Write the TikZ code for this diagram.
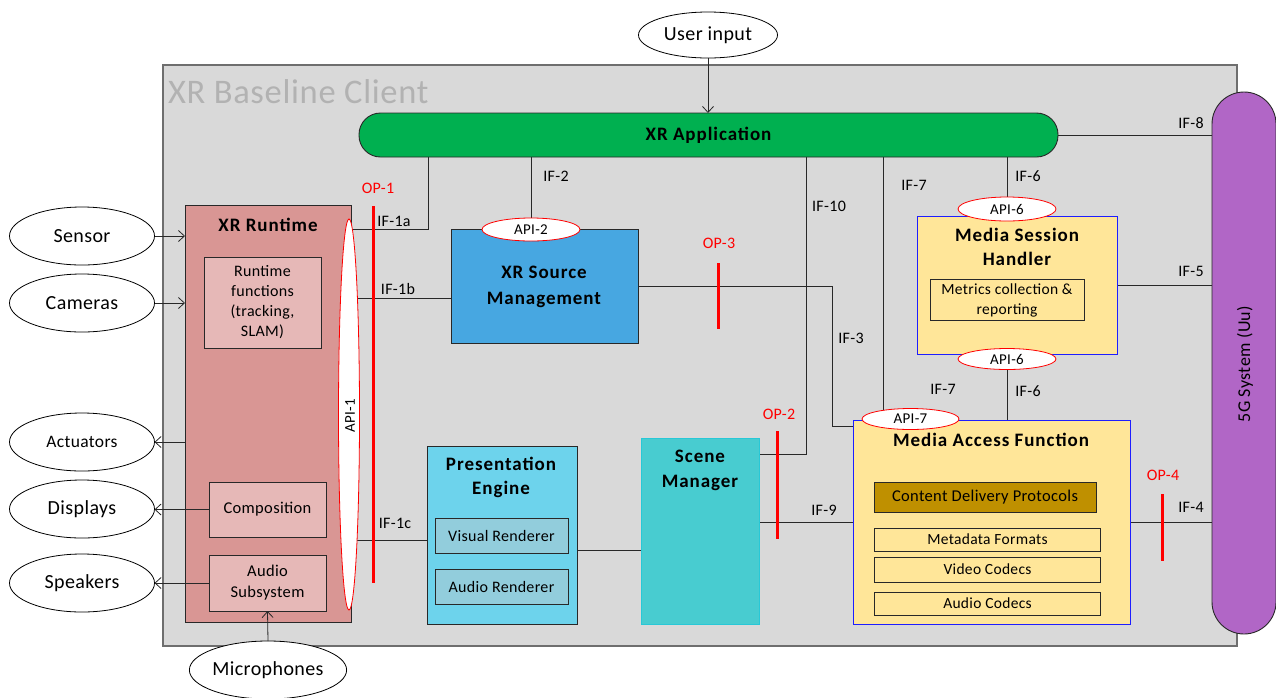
\documentclass[tikz,border=0pt]{standalone}
\usepackage{fontspec}
\setmainfont{Carlito}[LetterSpace=2,BoldFeatures={LetterSpace=5}]
\usetikzlibrary{shapes.geometric,arrows.meta,calc}
\pgfdeclarelayer{back}
\pgfdeclarelayer{bg}
\pgfsetlayers{back,bg,main}
\newcommand{\fsz}[2]{\fontsize{#1}{#2}\selectfont}
\definecolor{clientfill}{RGB}{217,217,217}
\definecolor{clientborder}{RGB}{110,110,110}
\definecolor{clienttext}{RGB}{178,178,178}
\definecolor{appgreen}{RGB}{0,176,80}
\definecolor{fivegpurple}{RGB}{177,102,198}
\definecolor{rtred}{RGB}{217,150,148}
\definecolor{rtin}{RGB}{230,184,183}
\definecolor{xrsmblue}{RGB}{71,167,225}
\definecolor{peblue}{RGB}{109,211,236}
\definecolor{rendblue}{RGB}{146,205,220}
\definecolor{smteal}{RGB}{72,204,208}
\definecolor{smborder}{RGB}{40,200,215}
\definecolor{lyellow}{RGB}{255,230,153}
\definecolor{gold}{RGB}{191,144,0}
\definecolor{mafblue}{RGB}{30,30,255}
\definecolor{lineblk}{RGB}{40,40,40}
\begin{document}
\begin{tikzpicture}[x=1pt,y=-1pt,
  base/.style={inner sep=0pt,outer sep=0pt},
  blk/.style={base,rectangle,draw=lineblk,line width=0.9pt},
  ell/.style={base,ellipse,draw=black,fill=white,line width=0.8pt,minimum width=145pt,minimum height=58pt,font=\fsz{20}{24}},
  api/.style={base,ellipse,draw=red,fill=white,line width=0.8pt,minimum width=98pt,font=\fsz{15}{18}},
  conn/.style={draw=lineblk,line width=0.8pt},
  arr/.style={conn,-{Straight Barb[length=6pt,width=11pt]}},
  op/.style={draw=red,line width=3pt},
  lbl/.style={base,font=\fsz{16}{19}},
  oplbl/.style={lbl,text=red},
  ttl/.style={base,font=\bfseries\fsz{19}{25},align=center},
  inbox/.style={blk,align=center,font=\fsz{16}{20}}
]
\useasboundingbox (0,0) rectangle (1276,697);

\begin{pgfonlayer}{back}
\node[base,draw=clientborder,fill=clientfill,line width=1.2pt,minimum width=1074pt,minimum height=581pt] (client) at (700,355.5) {};
\end{pgfonlayer}
\node[base,text=clienttext,font=\fsz{34.5}{40},anchor=base west] (clienttitle) at (168,103) {XR Baseline Client};

% outside elements
\node[ell,minimum width=139pt,minimum height=46pt] (userinput) at (708,35) {User input};
\node[ell] (sensor) at (82,236) {Sensor};
\node[ell] (cameras) at (82,303) {Cameras};
\node[ell,font=\fsz{17.5}{20}] (actuators) at (82,442) {Actuators};
\node[ell] (displays) at (82,509) {Displays};
\node[ell] (speakers) at (82,583) {Speakers};
\node[ell,minimum width=146pt] (microphones) at (268,670) {Microphones};

% XR application and 5G system
\node[base,draw=lineblk,line width=0.9pt,fill=appgreen,rounded corners=21.5pt,minimum width=699pt,minimum height=44pt,font=\bfseries\fsz{19}{22}] (xrapp) at (708.5,135) {\raisebox{-3pt}{XR Application}};
\node[base,draw=lineblk,line width=0.9pt,fill=fivegpurple,rounded corners=32pt,minimum width=64pt,minimum height=542pt] (fiveg) at (1244,363) {};
\node[base,rotate=90,font=\fsz{18}{20}] (fivegtext) at (1245,364) {5G System (Uu)};

% XR runtime
\node[blk,fill=rtred,minimum width=166pt,minimum height=417pt] (runtime) at (268,413.5) {};
\node[ttl] (runtimetitle) at (268,225) {XR Runtime};
\node[inbox,fill=rtin,minimum width=117pt,minimum height=91pt] (rtfunc) at (262.5,302.5) {Runtime\\functions\\(tracking,\\SLAM)};
\node[inbox,fill=rtin,minimum width=117pt,minimum height=55pt,font=\fsz{16.5}{20}] (comp) at (267.5,509.5) {Composition};
\node[inbox,fill=rtin,minimum width=117pt,minimum height=56pt,font=\fsz{16.5}{21}] (audiosub) at (267.5,583) {Audio\\Subsystem};
\node[api,minimum width=21pt,minimum height=391pt] (api1) at (349,414.5) {};
\node[base,rotate=90,font=\fsz{15}{18}] (api1text) at (350,416) {API-1};

% XR source management
\node[blk,fill=xrsmblue,minimum width=187pt,minimum height=114pt] (xrsm) at (544.5,286) {};
\node[ttl,font=\bfseries\fsz{19}{26}] (xrsmtitle) at (544,287) {XR Source\\Management};
\node[api,minimum height=23pt] (api2) at (531,229.5) {API-2};

% presentation engine
\node[blk,fill=peblue,minimum width=150pt,minimum height=178pt] (pe) at (502,535) {};
\node[ttl,font=\bfseries\fsz{19}{24}] (petitle) at (501,477) {Presentation\\Engine};
\node[inbox,fill=rendblue,minimum width=133pt,minimum height=35pt] (vr) at (501.5,535.5) {Visual Renderer};
\node[inbox,fill=rendblue,minimum width=133pt,minimum height=35pt] (ar) at (501.5,586.5) {Audio Renderer};

% scene manager
\node[base,draw=smborder,line width=0.9pt,fill=smteal,minimum width=118pt,minimum height=186pt] (sm) at (700,531) {};
\node[ttl,font=\bfseries\fsz{19}{25}] (smtitle) at (700,470) {Scene\\Manager};

% media session handler
\node[base,draw=mafblue,line width=0.8pt,fill=lyellow,minimum width=200pt,minimum height=138pt] (msh) at (1017.5,285) {};
\node[ttl,font=\bfseries\fsz{19}{24}] (mshtitle) at (1017,247) {Media Session\\Handler};
\node[inbox,fill=lyellow,minimum width=154pt,minimum height=41pt,font=\fsz{15.5}{20}] (metrics) at (1007,300) {Metrics collection \&\\reporting};
\node[api,minimum height=24pt] (api6a) at (1007,209) {API-6};
\node[api,minimum height=21pt] (api6b) at (1007,359) {API-6};

% media access function
\node[base,draw=mafblue,line width=0.8pt,fill=lyellow,minimum width=277pt,minimum height=204pt] (maf) at (991.5,522) {};
\node[ttl] (maftitle) at (991,440) {Media Access Function};
\node[api,minimum width=97pt,minimum height=21pt] (api7) at (910.5,419) {API-7};
\node[inbox,fill=gold,minimum width=222pt,minimum height=30pt,font=\fsz{16.5}{20}] (cdp) at (985,497) {Content Delivery Protocols};
\node[inbox,fill=lyellow,minimum width=226pt,minimum height=23pt,font=\fsz{15.5}{20}] (meta) at (987.5,539.5) {Metadata Formats};
\node[inbox,fill=lyellow,minimum width=226pt,minimum height=25pt,font=\fsz{15.5}{20}] (video) at (987.5,569.5) {Video Codecs};
\node[inbox,fill=lyellow,minimum width=226pt,minimum height=23pt,font=\fsz{15.5}{20}] (audioc) at (987.5,603.5) {Audio Codecs};

% connectors under the boxes
\begin{pgfonlayer}{bg}
\draw[arr] (userinput.south) -- (userinput.south |- xrapp.north);
\draw[arr] (sensor.east) -- (sensor.east -| runtime.west);
\draw[arr] (cameras.east) -- (cameras.east -| runtime.west);
\draw[arr] (actuators.east -| runtime.west) -- (actuators.east);
\coordinate (c1a) at ($(runtime.north east)+(0,24)$);
\draw[conn] (c1a) -| ($(xrapp.south west)+(69,0)$);
\coordinate (c1b) at ($(xrsm.west)+(0,12)$);
\draw[conn] (c1b -| api1.center) -- (c1b);
\coordinate (c1c) at ($(pe.west)+(0,5)$);
\draw[conn] (c1c -| api1.center) -- (c1c);
\draw[conn] (api2.center) -- (api2.center |- xrapp.south);
\coordinate (c3) at ($(maf.north west)+(0,6)$);
\draw[conn] (xrsm.east) -| ($(c3)+(-21,0)$) -- (c3);
\coordinate (c10) at ($(sm.north east)+(0,16)$);
\draw[conn] (c10) -| ($(xrapp.south west)+(447,0)$);
\coordinate (c7) at ($(api7.center)+(-27,0)$);
\draw[conn] (c7) -- (c7 |- xrapp.south);
\draw[conn] (api6a.center) -- (api6a.center |- xrapp.south);
\draw[conn] (api6b.center) -- (api6b.center |- maf.north);
\draw[conn] (msh.east) -- (msh.east -| fiveg.west);
\draw[conn] (xrapp.east) -- (xrapp.east -| fiveg.west);
\draw[conn] (maf.east) -- (maf.east -| fiveg.west);
\draw[conn] (maf.west) -- (maf.west -| sm.east);
\coordinate (cps) at ($(pe.east)+(0,15)$);
\draw[conn] (cps) -- (cps -| sm.west);
\end{pgfonlayer}

% connectors that cross the XR runtime box
\draw[arr] (comp.west) -- (comp.west -| displays.east);
\draw[arr] (audiosub.west) -- (audiosub.west -| speakers.east);
\draw[arr] (microphones.north) -- (audiosub.south);

% interface labels
\node[lbl] (lif1a) at (394,221) {IF-1a};
\node[lbl] (lif1b) at (398,289) {IF-1b};
\node[lbl] (lif1c) at (395,523) {IF-1c};
\node[lbl] (lif2) at (556,176) {IF-2};
\node[lbl] (lif10) at (829,206) {IF-10};
\node[lbl] (lif7a) at (914,185) {IF-7};
\node[lbl] (lif7b) at (943,389) {IF-7};
\node[lbl] (lif6a) at (1028,176) {IF-6};
\node[lbl] (lif6b) at (1028,391) {IF-6};
\node[lbl] (lif3) at (851,338) {IF-3};
\node[lbl] (lif9) at (824,510) {IF-9};
\node[lbl] (lif8) at (1191,123) {IF-8};
\node[lbl] (lif5) at (1191,271) {IF-5};
\node[lbl] (lif4) at (1191,507) {IF-4};

% observation points
\draw[op] (373,206) -- (373,583);
\draw[op] (718,263) -- (718,329);
\draw[op] (777,431) -- (777,539);
\draw[op] (1162,494) -- (1162,561);
\node[oplbl] (op1) at (378,188) {OP-1};
\node[oplbl] (op3) at (719,243) {OP-3};
\node[oplbl] (op2) at (779,414) {OP-2};
\node[oplbl] (op4) at (1163,475) {OP-4};
\end{tikzpicture}
\end{document}
